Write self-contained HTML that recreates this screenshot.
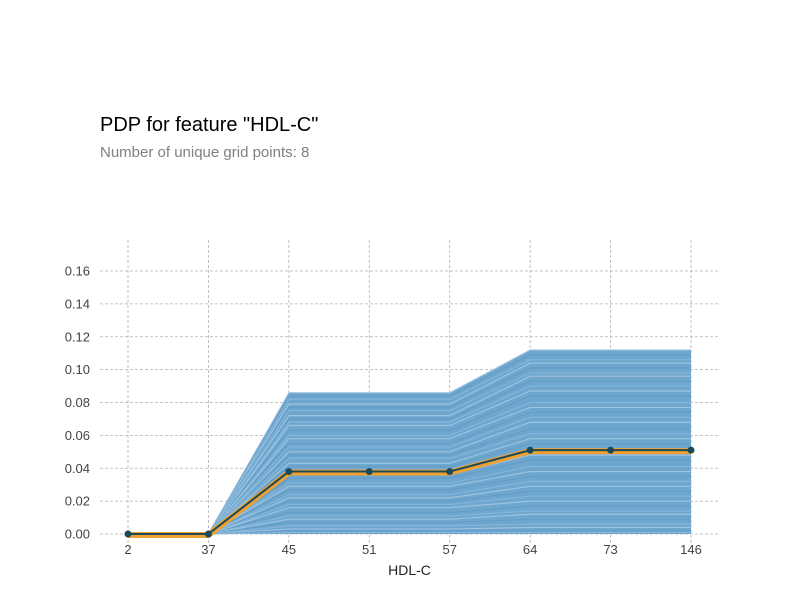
<!DOCTYPE html>
<html><head><meta charset="utf-8"><style>
body{margin:0;background:#fff;font-family:"Liberation Sans",Arial,sans-serif}
svg text{font-family:"Liberation Sans",Arial,sans-serif}
</style></head><body>
<svg id="c" width="800" height="600">
<text x="100" y="131" font-size="20" fill="#000">PDP for feature "HDL-C"</text>
<text x="100" y="157" font-size="15" fill="#808080">Number of unique grid points: 8</text>
<g id="grid"></g><g id="ice"></g><g id="pdp"></g><g id="axes"></g>
<text x="409.5" y="575" font-size="14" text-anchor="middle" fill="#222">HDL-C</text>
</svg>
<script>
const categories=["2","37","45","51","57","64","73","146"];
const pdpValues=[0,0,0.038,0.038,0.038,0.051,0.051,0.051];
const yTicks=[0,0.02,0.04,0.06,0.08,0.10,0.12,0.14,0.16];
const yTickLabels=["0.00","0.02","0.04","0.06","0.08","0.10","0.12","0.14","0.16"];
const iceAt45=[0.086,0.084,0.082,0.079,0.077,0.075,0.072,0.070,0.068,0.066,0.063,0.060,0.058,0.055,0.053,0.050,0.048,0.046,0.043,0.041,0.039,0.036,0.034,0.031,0.029,0.027,0.024,0.022,0.020,0.018,0.016,0.013,0.011,0.009,0.007,0.005,0.003,0.002,0.001];
const iceAt64=[0.112,0.109,0.106,0.104,0.101,0.098,0.096,0.093,0.090,0.087,0.084,0.080,0.077,0.074,0.071,0.068,0.064,0.061,0.058,0.055,0.052,0.048,0.045,0.041,0.038,0.035,0.032,0.029,0.026,0.023,0.020,0.017,0.014,0.012,0.009,0.006,0.004,0.002,0.001];
const NS="http://www.w3.org/2000/svg";
const x=i=>128+i*(691-128)/7;
const y=v=>534-v*(534-271)/0.16;
function mk(p,t,a){const e=document.createElementNS(NS,t);for(const k in a)e.setAttribute(k,a[k]);p.appendChild(e);return e;}
const grid=document.getElementById('grid'),ice=document.getElementById('ice'),pdp=document.getElementById('pdp'),axes=document.getElementById('axes');
yTicks.forEach((v,i)=>{
 const l=mk(grid,'line',{x1:100,x2:720,y1:y(v),y2:y(v),stroke:'#b0b0b0','stroke-dasharray':'3,2','stroke-width':0.8});
 
 
 const t=mk(axes,'text',{x:90,y:y(v)+4.5,'font-size':13,'text-anchor':'end',fill:'#444'});t.textContent=yTickLabels[i];
 
 
});
categories.forEach((c,i)=>{
 const l=mk(grid,'line',{x1:x(i),x2:x(i),y1:240,y2:545,stroke:'#b0b0b0','stroke-dasharray':'3,2','stroke-width':0.8});
 
 
 const t=mk(axes,'text',{x:x(i),y:554,'font-size':13,'text-anchor':'middle',fill:'#444'});t.textContent=c;
 
 
});
// base fill of ICE region
const env=[0,0,iceAt45[0],iceAt45[0],iceAt45[0],iceAt64[0],iceAt64[0],iceAt64[0]];
let pts=env.map((v,i)=>x(i)+','+y(v)).join(' ')+' '+x(7)+','+y(0)+' '+x(0)+','+y(0);
const bg=mk(ice,'polygon',{points:pts,fill:'#6fa6cd'});


iceAt45.forEach((a,k)=>{
 const b=iceAt64[k];const vals=[0,0,a,a,a,b,b,b];
 const col=k%3===0?'#a9cbe4':(k%3===1?'#5f9cc8':'#8bb9dc');
 const l=mk(ice,'polyline',{points:vals.map((v,i)=>x(i)+','+y(v)).join(' '),fill:'none',stroke:col,'stroke-width':1.2,opacity:0.8});
 
 
});
const p2=pdpValues.map((v,i)=>x(i)+','+(y(v)+1)).join(' ');
const o=mk(pdp,'polyline',{points:p2,fill:'none',stroke:'#f0a030','stroke-width':6});


const d=mk(pdp,'polyline',{points:pdpValues.map((v,i)=>x(i)+','+y(v)).join(' '),fill:'none',stroke:'#1a4a5a','stroke-width':2});


pdpValues.forEach((v,i)=>{
 const c=mk(pdp,'circle',{cx:x(i),cy:y(v),r:3.5,fill:'#1a4a5a'});
 
 
});
</script>
</body></html>
